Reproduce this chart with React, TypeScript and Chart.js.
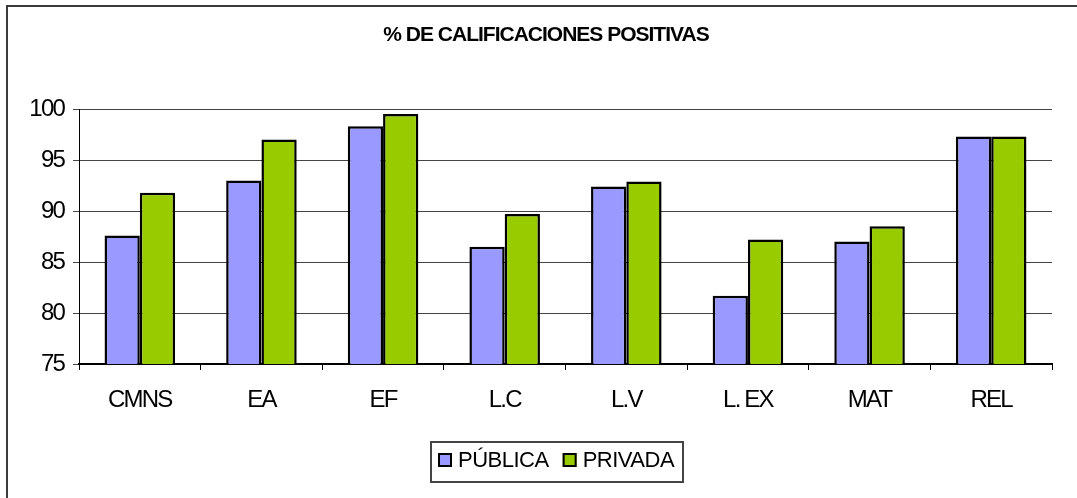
import { useEffect, useRef } from 'react';
import { Chart, registerables } from 'chart.js';

Chart.register(...registerables);

const TITLE = '% DE CALIFICACIONES POSITIVAS';
const CATEGORIES = ['CMNS', 'EA', 'EF', 'L.C', 'L.V', 'L. EX', 'MAT', 'REL'];
const SERIES_NAMES = ['PÚBLICA', 'PRIVADA'];
const PUBLICA = [87.6, 93.0, 98.3, 86.5, 92.4, 81.7, 87.0, 97.3];
const PRIVADA = [91.8, 97.0, 99.5, 89.7, 92.9, 87.2, 88.5, 97.3];
const Y_MIN = 75;
const Y_MAX = 100;
const Y_STEP = 5;
const COLORS = ['#9999FF', '#99CC00'];
const FONT = "'Liberation Sans', Arial, sans-serif";

const W = 1077;
const H = 498;

const framePlugin = {
  id: 'frame',
  beforeDraw(chart: any) {
    const ctx = chart.ctx;
    ctx.save();
    ctx.fillStyle = '#ffffff';
    ctx.fillRect(0, 0, chart.width, chart.height);
    ctx.strokeStyle = '#3a3a3a';
    ctx.lineWidth = 2;
    ctx.strokeRect(7, 6, chart.width + 20, chart.height + 20);
    ctx.restore();
    ctx.letterSpacing = '-1.8px';
  },
  afterDraw(chart: any) {
    const ctx = chart.ctx;
    ctx.save();
    // title
    ctx.letterSpacing = '-1px';
    ctx.font = `bold 21px ${FONT}`;
    ctx.fillStyle = '#000';
    ctx.textAlign = 'center';
    ctx.textBaseline = 'middle';
    ctx.fillText(TITLE, 546, 35);
    // legend
    const lx = 431, ly = 442, lw = 252, lh = 40;
    ctx.strokeStyle = '#444';
    ctx.lineWidth = 2;
    ctx.strokeRect(lx, ly, lw, lh);
    ctx.font = `22px ${FONT}`;
    ctx.letterSpacing = '-0.5px';
    ctx.textAlign = 'left';
    let x = 438;
    chart.data.datasets.forEach((ds: any) => {
      ctx.fillStyle = ds.backgroundColor;
      ctx.fillRect(x, 453, 14, 14);
      ctx.strokeStyle = '#000';
      ctx.lineWidth = 2;
      ctx.strokeRect(x + 1, 454, 12, 12);
      ctx.fillStyle = '#000';
      ctx.fillText(ds.label, x + 20, 461);
      x += 20 + ctx.measureText(ds.label).width + 14;
    });
    ctx.restore();
  },
};

export default function App() {
  const ref = useRef<HTMLCanvasElement | null>(null);

  useEffect(() => {
    if (!ref.current) return;
    const chart = new Chart(ref.current, {
      type: 'bar',
      data: {
        labels: CATEGORIES,
        datasets: [
          {
            label: SERIES_NAMES[0],
            data: PUBLICA,
            backgroundColor: COLORS[0],
            borderColor: '#000',
            borderWidth: 2.5,
            categoryPercentage: 0.58,
            barPercentage: 1,
          },
          {
            label: SERIES_NAMES[1],
            data: PRIVADA,
            backgroundColor: COLORS[1],
            borderColor: '#000',
            borderWidth: 2.5,
            categoryPercentage: 0.58,
            barPercentage: 1,
          },
        ],
      },
      options: {
        responsive: false,
        animation: false,
        devicePixelRatio: 1,
        layout: { padding: { left: 0, right: 25, top: 109, bottom: 74 } },
        plugins: {
          legend: { display: false },
          title: { display: false },
          tooltip: { enabled: false },
        },
        scales: {
          x: {
            afterFit: (s: any) => { s.height = 60; },
            grid: {
              display: true,
              drawOnChartArea: false,
              drawTicks: true,
              tickLength: 6,
              color: '#000',
              offset: true,
            },
            border: { display: true, color: '#000', width: 2 },
            ticks: {
              color: '#000',
              padding: 16,
              font: { family: FONT, size: 24 },
              maxRotation: 0,
            },
          },
          y: {
            min: Y_MIN,
            max: Y_MAX,
            afterFit: (s: any) => { s.width = 79; },
            grid: { color: '#444', tickLength: 6, drawTicks: true },
            border: { display: true, color: '#000', width: 1 },
            ticks: {
              stepSize: Y_STEP,
              color: '#000',
              padding: 9,
              font: { family: FONT, size: 24 },
            },
          },
        },
      },
      plugins: [framePlugin],
    });
    return () => chart.destroy();
  }, []);

  return (
    <div style={{ position: 'absolute', left: 0, top: 0, width: W, height: H, background: '#fff' }}>
      <canvas ref={ref} width={W} height={H} style={{ display: 'block' }} />
    </div>
  );
}
